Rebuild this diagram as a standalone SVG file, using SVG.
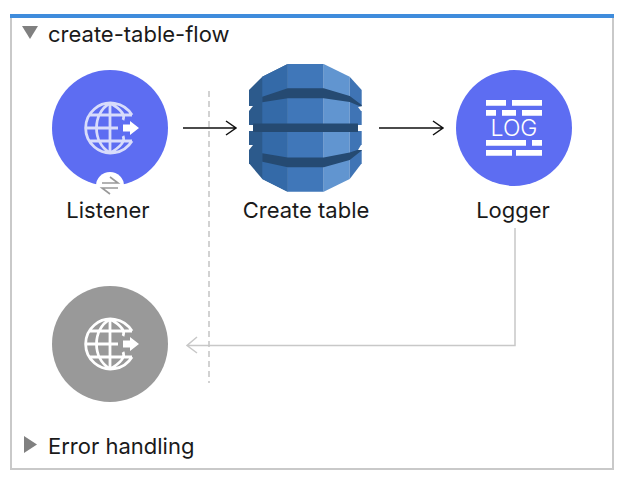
<svg xmlns="http://www.w3.org/2000/svg" width="630" height="482" viewBox="0 0 630 482">
<style>
.t{font-family:Inter,"Liberation Sans",sans-serif;font-size:22px;fill:#1a1a1a}
.m{text-anchor:middle}
.g{fill:none;stroke-width:2.800}
.w{fill:#fff}
</style>
<defs>
<g id="globe">
<path class="g" d="M22 -13A25 25 0 1 0 22 13M-25 0H8M-21.500 -13H22M-21.500 13H22M0 -25V25M0 -25C-18 -14-18 14 0 25M0 -25C14 -17 15 -12 13 -8M0 25C14 17 15 12 13 8"/>
<path class="w" stroke="none" d="M13 -3.500H20V-7L29 0L20 7V3.500H13Z"/>
</g>
</defs>
<rect width="630" height="482" fill="#fff"/>
<g id="panel">
<rect x="11" y="15" width="602" height="454" fill="#fff" stroke="#c9c9c9" stroke-width="2"/>
<rect x="10" y="14" width="604" height="4" fill="#3f8cdc"/>
<path d="M22 26H38L30 39Z" fill="#808080"/>
<path d="M24 436L37 444.500L24 453Z" fill="#808080"/>
<text class="t" x="48" y="42">create-table-flow</text>
<text class="t" x="48" y="454">Error handling</text>
</g>
<g id="connectors">
<path d="M183 128H236M226 121L236 128L226 135M379 128H443M433 121L443 128L433 135" fill="none" stroke="#111" stroke-width="1.500"/>
<path d="M515 228V345.500H187M197 337L187 345.500L197 353" fill="none" stroke="#c8c8c8" stroke-width="1.500"/>
<path d="M209 91V383" fill="none" stroke="#c4c4c4" stroke-width="1.500" stroke-dasharray="6 4"/>
</g>
<g id="listener">
<circle cx="110" cy="128" r="58" fill="#5d6df2"/>
<circle cx="110" cy="186" r="14" fill="#fff"/>
<use href="#globe" x="110" y="128" stroke="#d8dcfb"/>
<path d="M102 183H118L110 177M118 188H102L110 194" fill="none" stroke="#999" stroke-width="1.600"/>
<text class="t m" x="108" y="218">Listener</text>
</g>
<g id="create-table">
<path d="M249 90L262.300 76.700L287.700 64V191.700L262.300 179L249 163.300Z" fill="#2c5a8c"/>
<path d="M262.300 76.700L287.700 64V191.700L262.300 179Z" fill="#346aa8"/>
<path d="M287.700 64H323.700V191.700H287.700Z" fill="#4077b9"/>
<path d="M323.700 64L349.700 76.700V179L323.700 191.700Z" fill="#6195d0"/>
<path d="M349.700 76.700L361.700 90V163.300L349.700 179Z" fill="#3f74b5"/>
<path d="M262.300 96.700L287.700 88.300H323.700L349.700 96L361.700 105V107L349.700 102L323.700 98.300H287.700L262.300 102.300Z" fill="#254a72"/>
<path d="M253 123.500H358V132H253Z" fill="#254a72"/>
<path d="M262.300 153.300L287.700 157.500H323.700L349.700 152.500L361.700 148.500V150.500L349.700 160L323.700 167.300H287.700L262.300 161.700Z" fill="#254a72"/>
<path d="M248 106H253L249 111H248ZM248 125H253V131H248ZM248 145H253L249 150H248ZM358 107L363 106V111H361ZM358 125H363V131H358ZM361 145H363V150H358Z" fill="#fff"/>
<text class="t m" x="306" y="218">Create table</text>
</g>
<g id="logger">
<circle cx="514" cy="128" r="58" fill="#5d6df2"/>
<path class="w" d="M486 100h20v5.700h-20zM512 100h30v5.700h-30zM486 110h10v5.700h-10zM502 110h14v5.700h-14zM522 110h20v5.700h-20zM486 140h40v5.700h-40zM532 140h10v5.700h-10zM486 150h26v5.700h-26zM516 150h26v5.700h-26z"/>
<text x="514" y="136" text-anchor="middle" font-family="Inter,'Liberation Sans',sans-serif" font-size="23" font-weight="300" fill="#fff">LOG</text>
<text class="t m" x="513" y="218">Logger</text>
</g>
<g id="error-response">
<circle cx="110" cy="344" r="58" fill="#999"/>
<use href="#globe" x="110" y="344" stroke="#fff"/>
</g>
</svg>
